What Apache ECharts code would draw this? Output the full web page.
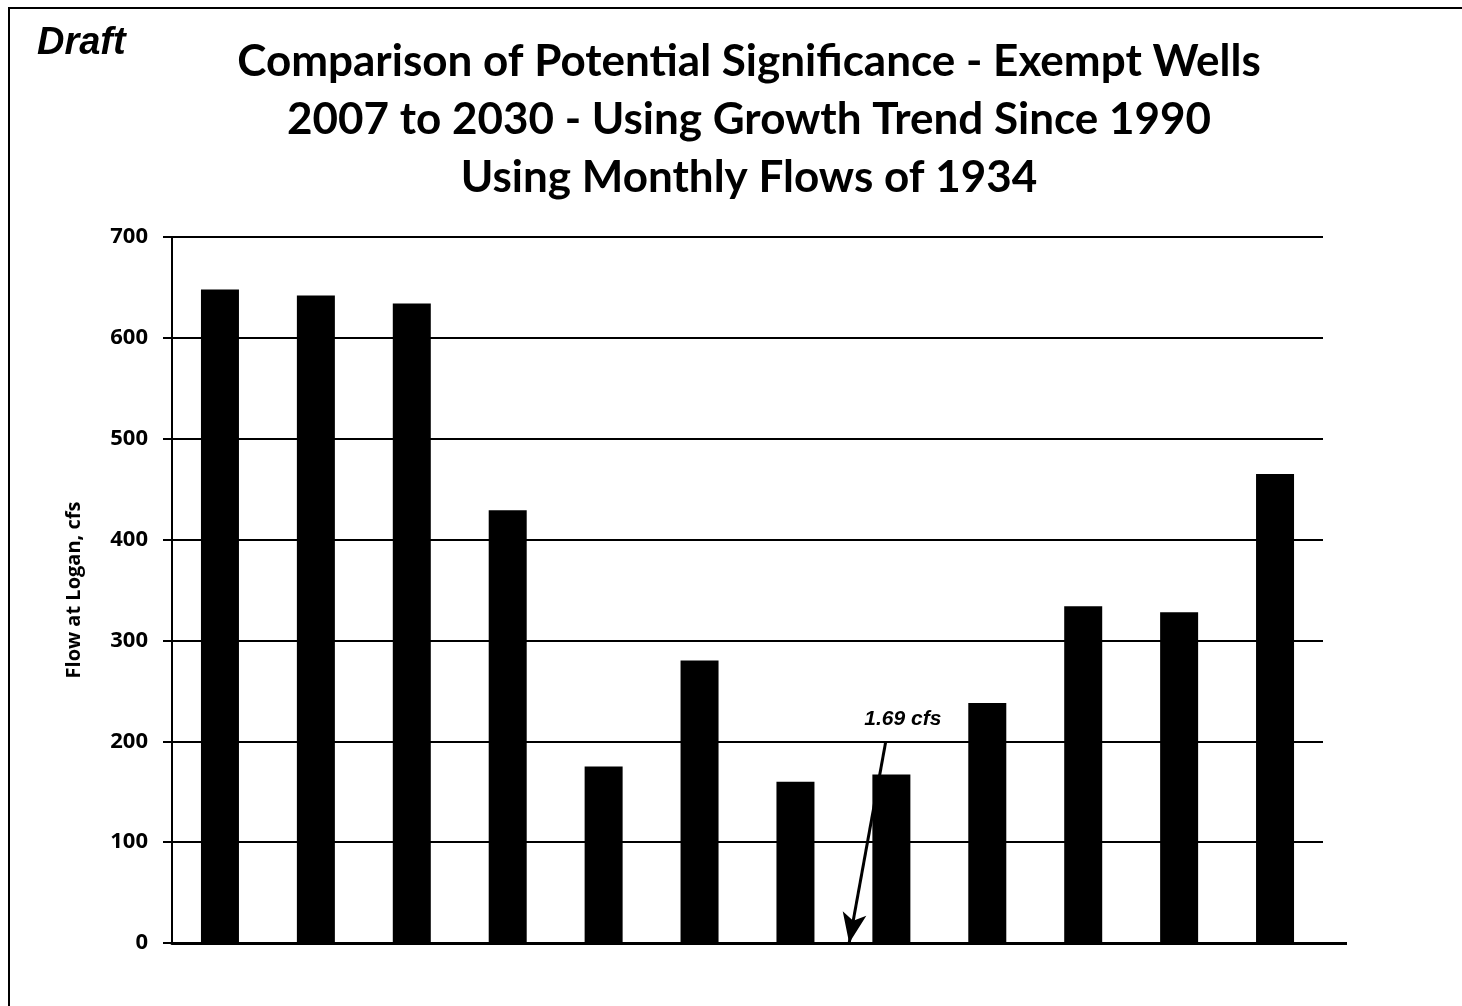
<!DOCTYPE html>
<html>
<head>
<meta charset="utf-8">
<script src="https://cdn.jsdelivr.net/npm/echarts@6/dist/echarts.min.js"></script>
<style>
  html, body { margin: 0; padding: 0; background: #fff; }
  #chart { width: 1462px; height: 1006px; }
</style>
</head>
<body>
<div id="chart"></div>
<script>
// months of the 1934 flow record (labels not printed on the chart)
const months = ['Jan', 'Feb', 'Mar', 'Apr', 'May', 'Jun', 'Jul', 'Aug', 'Sep', 'Oct', 'Nov', 'Dec']
const flows = [648, 642, 634, 429, 175, 280, 160, 167, 238, 334, 328, 465]
const yTicks = [0, 100, 200, 300, 400, 500, 600, 700]

// annotation: "1.69 cfs" with arrow pointing down to the axis
const noteText = '1.69 cfs'
const noteArrowFrom = [7.44, 199]
const noteArrowTo = [7.06, 0]
const noteLabelAt = [7.62, 222]

const titleLines = [
  'Comparison of Potential Significance - Exempt Wells',
  '2007 to 2030 - Using Growth Trend Since 1990',
  'Using Monthly Flows of 1934'
]

let chart = echarts.init(document.getElementById('chart'))

let option = {
  backgroundColor: '#fff',
  animation: false,
  title: [
    {
      text: titleLines.join('\n'),
      left: 744,
      top: 28,
      textAlign: 'center',
      textStyle: {
        fontFamily: 'Lato',
        fontWeight: 'bold',
        fontSize: 44,
        lineHeight: 58,
        color: '#000'
      }
    },
    {
      text: 'Draft',
      left: 32,
      top: 20,
      textStyle: {
        fontFamily: 'Liberation Sans',
        fontWeight: 'bold',
        fontStyle: 'italic',
        fontSize: 38,
        color: '#000'
      }
    }
  ],
  graphic: [
    {
      type: 'rect',
      shape: { x: 9, y: 8, width: 1460, height: 1010 },
      style: { fill: 'none', stroke: '#000', lineWidth: 2 },
      silent: true
    },
    {
      type: 'line',
      shape: { x1: 1322, y1: 943.5, x2: 1347, y2: 943.5 },
      style: { stroke: '#000', lineWidth: 3 },
      silent: true
    }
  ],
  grid: { left: 172, right: 139, top: 237, bottom: 63 },
  xAxis: [
    {
      type: 'category',
      data: months,
      axisLine: { lineStyle: { color: '#000', width: 3 } },
      axisTick: { show: false },
      axisLabel: { show: false }
    },
    {
      type: 'value',
      min: 0,
      max: 12,
      show: false
    }
  ],
  yAxis: {
    type: 'value',
    min: yTicks[0],
    max: yTicks[yTicks.length - 1],
    interval: 100,
    name: 'Flow at Logan, cfs',
    nameLocation: 'middle',
    nameGap: 88,
    nameTextStyle: {
      fontFamily: 'Open Sans',
      fontWeight: 'bold',
      fontSize: 20,
      color: '#000'
    },
    axisLine: { show: true, lineStyle: { color: '#000', width: 2 } },
    axisTick: { show: true, length: 9, lineStyle: { color: '#000', width: 2 } },
    axisLabel: {
      margin: 24,
      fontFamily: 'Open Sans',
      fontWeight: 'bold',
      fontSize: 22,
      color: '#000'
    },
    splitLine: { lineStyle: { color: '#000', width: 2 } }
  },
  series: [
    {
      type: 'bar',
      data: flows,
      barWidth: 38,
      itemStyle: { color: '#000' }
    },
    {
      type: 'line',
      xAxisIndex: 1,
      data: [],
      markLine: {
        silent: true,
        symbol: ['none', 'arrow'],
        symbolSize: [18, 30],
        label: { show: false },
        lineStyle: { color: '#000', width: 3, type: 'solid' },
        data: [[{ coord: noteArrowFrom }, { coord: noteArrowTo }]]
      },
      markPoint: {
        silent: true,
        symbol: 'circle',
        symbolSize: 0,
        label: {
          show: true,
          formatter: noteText,
          fontFamily: 'Liberation Sans',
          fontWeight: 'bold',
          fontStyle: 'italic',
          fontSize: 21,
          color: '#000'
        },
        data: [{ coord: noteLabelAt }]
      }
    }
  ]
}

chart.setOption(option)
</script>
</body>
</html>
